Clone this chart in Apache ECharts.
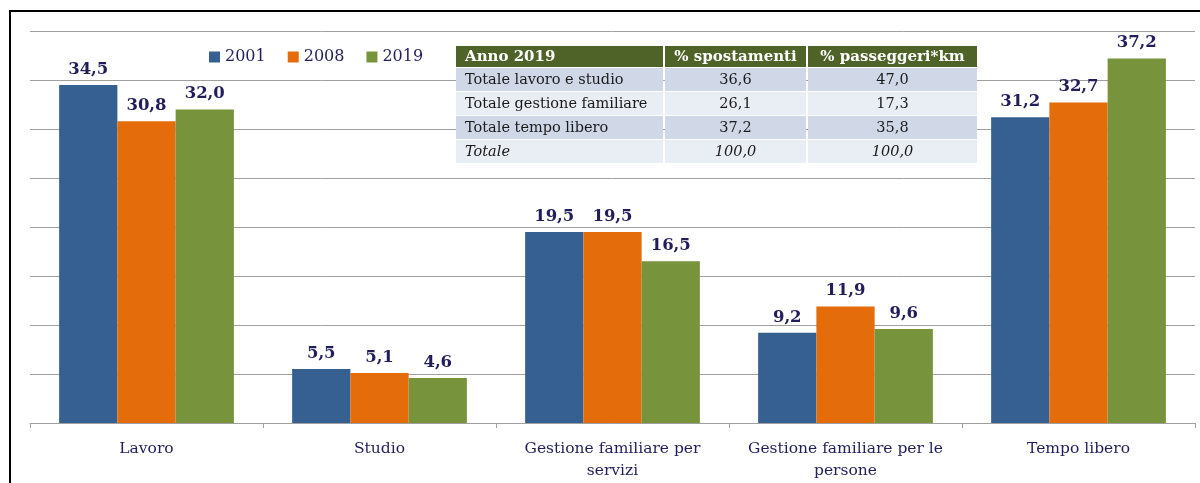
<!DOCTYPE html>
<html>
<head>
<meta charset="utf-8">
<script src="https://cdn.jsdelivr.net/npm/echarts@6/dist/echarts.min.js"></script>
<style>html,body{margin:0;padding:0;background:#fff}#c{width:1200px;height:483px}</style>
</head>
<body>
<div id="c"></div>
<script>
const categories = ['Lavoro', 'Studio', 'Gestione familiare per\nservizi', 'Gestione familiare per le\npersone', 'Tempo libero'];
const seriesNames = ['2001', '2008', '2019'];
const values2001 = [34.5, 5.5, 19.5, 9.2, 31.2];
const values2008 = [30.8, 5.1, 19.5, 11.9, 32.7];
const values2019 = [32.0, 4.6, 16.5, 9.6, 37.2];
const tableHeader = ['Anno 2019', '% spostamenti', '% passeggeri*km'];
const tableRowLabels = ['Totale lavoro e studio', 'Totale gestione familiare', 'Totale tempo libero', 'Totale'];
const tableSpostamenti = ['36,6', '26,1', '37,2', '100,0'];
const tablePasseggeri = ['47,0', '17,3', '35,8', '100,0'];

const colors = ['#376092', '#E46C0A', '#77933C'];
const navy = '#221E5C';
const serif = 'DejaVu Serif';

const chart = echarts.init(document.getElementById('c'));

const allValues = [values2001, values2008, values2019];
const series = seriesNames.map((n, i) => ({
  name: n,
  type: 'bar',
  data: allValues[i],
  barGap: '0%',
  barCategoryGap: '25%',
  itemStyle: { color: colors[i] },
  label: {
    show: true, position: 'top', distance: 7,
    fontFamily: serif, fontWeight: 'bold', fontSize: 16.5, color: navy,
    formatter: p => p.value.toFixed(1).replace('.', ',')
  }
}));

// Table graphic
const colX = [456, 665, 808];
const colW = [207, 141, 169];
const g = [];
g.push({ type: 'rect', z: 100, shape: { x: 10, y: 11, width: 1250, height: 600 }, style: { fill: 'none', stroke: '#000', lineWidth: 2 } });
const headerY = 46, headerH = 21, rowH = 24, rowY0 = 68;
for (let c = 0; c < 3; c++) {
  g.push({ type: 'rect', z: 50, shape: { x: colX[c], y: headerY, width: colW[c], height: headerH }, style: { fill: '#4F6228' } });
  g.push({ type: 'text', z: 51,
    x: c === 0 ? colX[c] + 9 : colX[c] + colW[c] / 2, y: headerY + headerH / 2 + 1,
    style: { text: tableHeader[c], fill: '#fff', font: 'bold 15px "' + serif + '"', align: c === 0 ? 'left' : 'center', verticalAlign: 'middle' } });
}
const rowCols = [tableRowLabels, tableSpostamenti, tablePasseggeri];
for (let r = 0; r < tableRowLabels.length; r++) {
  const y = rowY0 + r * rowH;
  const fill = r % 2 === 0 ? '#D0D8E8' : '#E9EDF4';
  const italic = r === tableRowLabels.length - 1;
  for (let c = 0; c < 3; c++) {
    g.push({ type: 'rect', z: 50, shape: { x: colX[c], y: y, width: colW[c], height: rowH - 1 }, style: { fill: fill } });
    g.push({ type: 'text', z: 51,
      x: c === 0 ? colX[c] + 9 : colX[c] + colW[c] / 2, y: y + (rowH - 1) / 2 + 1,
      style: { text: rowCols[c][r], fill: '#1a1a1a', font: (italic ? 'italic ' : '') + '14.5px "' + serif + '"', align: c === 0 ? 'left' : 'center', verticalAlign: 'middle' } });
  }
}

chart.setOption({
  animation: false,
  color: colors,
  grid: { left: 30, right: 5, top: 31, bottom: 60, containLabel: false },
  legend: {
    data: seriesNames, left: 204, top: 44, itemWidth: 11, itemHeight: 11, itemGap: 22,
    icon: 'rect',
    textStyle: { fontFamily: serif, fontSize: 16, color: navy }
  },
  xAxis: {
    type: 'category', data: categories,
    axisLine: { lineStyle: { color: '#A0A0A0', width: 1 } },
    axisTick: { show: true, length: 5, lineStyle: { color: '#A0A0A0' } },
    axisLabel: { fontFamily: serif, fontSize: 15.5, color: navy, margin: 15, lineHeight: 22, interval: 0 }
  },
  yAxis: {
    type: 'value', min: 0, max: 40, interval: 5,
    axisLabel: { show: false }, axisLine: { show: false }, axisTick: { show: false },
    splitLine: { lineStyle: { color: '#A0A0A0', width: 1 } }
  },
  series: series,
  graphic: g
});
</script>
</body>
</html>
